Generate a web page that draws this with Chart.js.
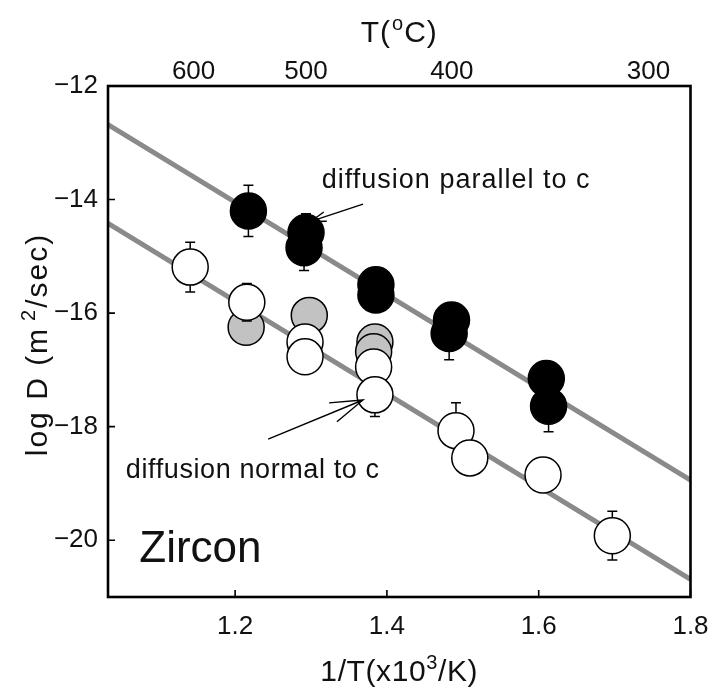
<!DOCTYPE html>
<html>
<head>
<meta charset="utf-8">
<script src="https://cdn.jsdelivr.net/npm/chart.js@4/dist/chart.umd.min.js"></script>
<style>
  html, body { margin: 0; padding: 0; background: #fff; }
  #wrap { width: 710px; height: 690px; }
</style>
</head>
<body>
<div id="wrap"><canvas id="c" width="710" height="690"></canvas></div>
<script>
// Axis extents (1/T in 10^3/K, log D in m^2/s)
const X_MIN = 1.0325, X_MAX = 1.8;
const Y_MIN = -21, Y_MAX = -12;

// Tick labels
const X_TICKS = [1.2, 1.4, 1.6, 1.8];
const Y_TICKS = [-20, -18, -16, -14, -12];
const TEMP_LABELS = [600, 500, 400, 300];          // degrees C on the top axis

// Diffusion parallel to c (filled black)
const parX   = [1.2175, 1.2934, 1.2908, 1.3855, 1.3855, 1.4851, 1.4820, 1.6100, 1.6130];
const parY   = [-14.20, -14.58, -14.85, -15.50, -15.68, -16.12, -16.36, -17.15, -17.64];
const parErr = [0.45,   0.33,   0.40,   0,      0.30,   0,      0.46,   0,      0.45];

// Diffusion normal to c (open)
const norX   = [1.1408, 1.2154, 1.2921, 1.2921, 1.3825, 1.3842, 1.4910, 1.5092, 1.6057, 1.6970];
const norY   = [-15.19, -15.81, -16.51, -16.77, -16.95, -17.44, -18.07, -18.55, -18.85, -19.92];
const norErr = [0.44,   0.33,   0,      0,      0,      0.38,   0.49,   0,      0,      0.43];

// Normal to c, second data set (grey)
const grayX = [1.2145, 1.2977, 1.3842, 1.3825];
const grayY = [-16.25, -16.04, -16.51, -16.68];

// Arrhenius fit lines (end points across the axis range)
const fitX     = [1.0325, 1.8];
const fitPar   = [-12.68, -18.94];
const fitNor   = [-14.42, -20.69];

// Text annotations: [text, x, y] in data units (left edge, baseline)
const NOTE_PAR  = ['diffusion parallel to c', 1.3142, -13.80];
const NOTE_NOR  = ['diffusion normal to c',   1.0560, -18.90];
const NOTE_MIN  = ['Zircon',                  1.0737, -20.375];
// Arrows: [fromX, fromY, toX, toY]
const ARROW_PAR = [1.3685, -14.08, 1.2997, -14.385];
const ARROW_NOR = [1.2435, -18.22, 1.3685, -17.53];

const FONT = "'Liberation Sans', Arial, Helvetica, sans-serif";
const pts = (xs, ys) => xs.map((x, i) => ({ x: x, y: ys[i] }));
const minus = v => (v < 0 ? '\u2212' + Math.abs(v) : String(v));
const toInvT = t => 1000 / (t + 273.15);

function richText(ctx, parts, x, y, align, spacing) {
  ctx.save();
  ctx.letterSpacing = spacing + 'px';
  ctx.textBaseline = 'alphabetic';
  ctx.textAlign = 'left';
  const widths = parts.map(p => { ctx.font = p.size + 'px ' + FONT; return ctx.measureText(p.text).width + (p.gap || 0); });
  const total = widths.reduce((a, b) => a + b, 0);
  let cx = align === 'center' ? x - total / 2 : x;
  parts.forEach((p, i) => {
    ctx.font = p.size + 'px ' + FONT;
    ctx.fillText(p.text, cx + (p.gap || 0), y - (p.raise || 0));
    cx += widths[i];
  });
  ctx.restore();
}

function arrow(ctx, xs, ys, a, head) {
  const x0 = xs.getPixelForValue(a[0]), y0 = ys.getPixelForValue(a[1]);
  const x1 = xs.getPixelForValue(a[2]), y1 = ys.getPixelForValue(a[3]);
  const ang = Math.atan2(y0 - y1, x0 - x1);
  const spread = 17.5 * Math.PI / 180;
  ctx.beginPath();
  ctx.moveTo(x0, y0); ctx.lineTo(x1, y1);
  ctx.moveTo(x1 + head * Math.cos(ang + spread), y1 + head * Math.sin(ang + spread));
  ctx.lineTo(x1, y1);
  ctx.lineTo(x1 + head * Math.cos(ang - spread), y1 + head * Math.sin(ang - spread));
  ctx.stroke();
}

// Error bars go in after the grey symbols and beneath the open and filled ones
const errorBars = {
  id: 'errorBars',
  afterDatasetDraw(chart, args) {
    if (chart.data.datasets[args.index].label !== 'grey') return;
    const ctx = chart.ctx, xs = chart.scales.x, ys = chart.scales.y;
    ctx.save();
    ctx.strokeStyle = '#000';
    ctx.lineWidth = 1.5;
    const draw = (X, Y, E) => X.forEach((x, i) => {
      if (!E[i]) return;
      const px = xs.getPixelForValue(x);
      const t = ys.getPixelForValue(Y[i] + E[i]);
      const b = ys.getPixelForValue(Y[i] - E[i]);
      ctx.beginPath();
      ctx.moveTo(px, t); ctx.lineTo(px, b);
      ctx.moveTo(px - 5, t); ctx.lineTo(px + 5, t);
      ctx.moveTo(px - 5, b); ctx.lineTo(px + 5, b);
      ctx.stroke();
    });
    draw(norX, norY, norErr);
    draw(parX, parY, parErr);
    ctx.restore();
  }
};

// Frame, inward tick marks, axis titles and annotations
const decorations = {
  id: 'decorations',
  afterDraw(chart) {
    const ctx = chart.ctx, a = chart.chartArea, xs = chart.scales.x, ys = chart.scales.y;
    ctx.save();
    ctx.strokeStyle = '#000';
    ctx.lineWidth = 1.6;
    ctx.beginPath();
    X_TICKS.forEach(v => { const p = xs.getPixelForValue(v); ctx.moveTo(p, a.bottom); ctx.lineTo(p, a.bottom - 7); });
    Y_TICKS.forEach(v => { const p = ys.getPixelForValue(v); ctx.moveTo(a.left, p); ctx.lineTo(a.left + 7, p); });
    ctx.stroke();
    ctx.lineWidth = 2.6;
    ctx.strokeRect(a.left, a.top, a.right - a.left, a.bottom - a.top);

    ctx.fillStyle = '#111';
    const cx = (a.left + a.right) / 2;
    // top axis title
    richText(ctx, [
      { text: 'T(', size: 30 },
      { text: 'o', size: 20, raise: 12, gap: 1 },
      { text: 'C)', size: 30 }
    ], cx, 42, 'center', 1);
    // bottom axis title
    richText(ctx, [
      { text: '1/T(x10', size: 30 },
      { text: '3', size: 20, raise: 12 },
      { text: '/K)', size: 30 }
    ], cx, 681, 'center', 0.6);
    // left axis title
    ctx.save();
    ctx.translate(47, (a.top + a.bottom) / 2 + 3);
    ctx.rotate(-Math.PI / 2);
    richText(ctx, [
      { text: 'log D (m', size: 30 },
      { text: '2', size: 20, raise: 12, gap: 6 },
      { text: '/sec)', size: 30 }
    ], 0, 0, 'center', 2);
    ctx.restore();

    // annotations
    [NOTE_PAR, NOTE_NOR].forEach((n, i) => {
      richText(ctx, [{ text: n[0], size: 27 }], xs.getPixelForValue(n[1]), ys.getPixelForValue(n[2]), 'left', i === 0 ? 1 : 0.6);
    });
    richText(ctx, [{ text: NOTE_MIN[0], size: 44 }], xs.getPixelForValue(NOTE_MIN[1]), ys.getPixelForValue(NOTE_MIN[2]), 'left', 0);

    ctx.strokeStyle = '#000';
    ctx.lineWidth = 1.4;
    arrow(ctx, xs, ys, ARROW_PAR, 16);
    arrow(ctx, xs, ys, ARROW_NOR, 34);
    ctx.restore();
  }
};

const tickFont = { family: FONT, size: 26, lineHeight: 1 };
const markerStyle = { type: 'scatter', pointRadius: 18, pointBorderWidth: 1.5, pointBorderColor: '#000', showLine: false };

new Chart(document.getElementById('c'), {
  data: {
    datasets: [
      Object.assign({ label: 'parallel', data: pts(parX, parY), pointBackgroundColor: '#000', order: 1 }, markerStyle),
      Object.assign({ label: 'normal', data: pts(norX, norY), pointBackgroundColor: '#fff', order: 2 }, markerStyle),
      Object.assign({ label: 'grey', data: pts(grayX, grayY), pointBackgroundColor: '#c2c2c2', order: 3 }, markerStyle),
      { type: 'line', label: 'fit parallel', data: pts(fitX, fitPar), borderColor: '#8a8a8a', borderWidth: 5, pointRadius: 0, order: 4 },
      { type: 'line', label: 'fit normal', data: pts(fitX, fitNor), borderColor: '#8a8a8a', borderWidth: 5, pointRadius: 0, order: 4 }
    ]
  },
  options: {
    responsive: false,
    animation: false,
    events: [],
    devicePixelRatio: 1,
    layout: { padding: { left: 0, right: 19, top: 0, bottom: 0 } },
    plugins: { legend: { display: false }, tooltip: { enabled: false } },
    scales: {
      x: {
        type: 'linear', position: 'bottom', min: X_MIN, max: X_MAX,
        grid: { display: false, drawTicks: false }, border: { display: false },
        ticks: { font: tickFont, color: '#111', padding: 17, autoSkip: false, maxRotation: 0, callback: v => v.toFixed(1) },
        afterBuildTicks: s => { s.ticks = X_TICKS.map(v => ({ value: v })); },
        afterFit: s => { s.height = 93; s.paddingLeft = 0; s.paddingRight = 18; }
      },
      x2: {
        type: 'linear', position: 'top', min: X_MIN, max: X_MAX,
        grid: { display: false, drawTicks: false }, border: { display: false },
        ticks: { font: tickFont, color: '#111', padding: 1, autoSkip: false, maxRotation: 0, callback: (v, i) => String(TEMP_LABELS[i]) },
        afterBuildTicks: s => { s.ticks = TEMP_LABELS.map(t => ({ value: toInvT(t) })); },
        afterFit: s => { s.height = 86; s.paddingLeft = 0; s.paddingRight = 0; }
      },
      y: {
        type: 'linear', position: 'left', min: Y_MIN, max: Y_MAX,
        grid: { display: false, drawTicks: false }, border: { display: false },
        ticks: { font: tickFont, color: '#111', padding: 10, autoSkip: false, callback: v => minus(v) },
        afterBuildTicks: s => { s.ticks = Y_TICKS.map(v => ({ value: v })); },
        afterFit: s => { s.width = 108; }
      }
    }
  },
  plugins: [errorBars, decorations]
});
</script>
</body>
</html>
